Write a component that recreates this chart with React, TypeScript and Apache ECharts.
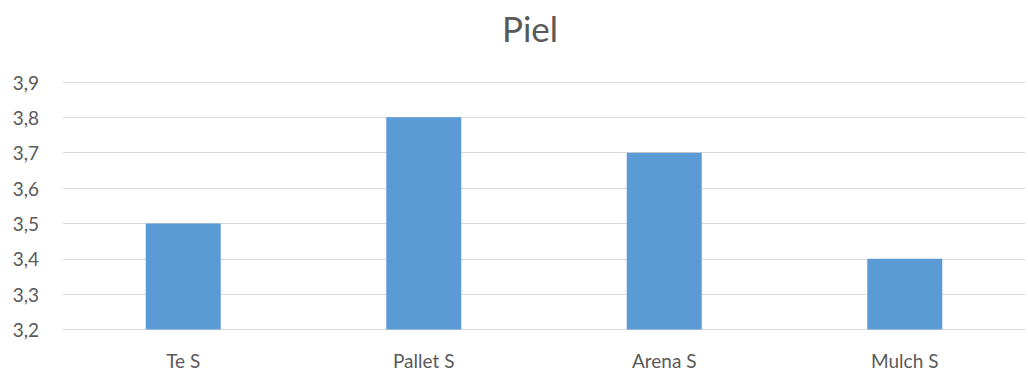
import React, { useEffect, useRef } from "react";
import * as echarts from "echarts";

const title = "Piel";
const categories = ["Te S", "Pallet S", "Arena S", "Mulch S"];
const values = [3.5, 3.8, 3.7, 3.4];
const yMin = 3.2;
const yMax = 3.9;
const yStep = 0.1;

export default function App() {
  const ref = useRef<HTMLDivElement>(null);
  useEffect(() => {
    if (!ref.current) return;
    const chart = echarts.init(ref.current, undefined, { renderer: "svg" });
    const font = "Lato, 'Open Sans', sans-serif";
    chart.setOption({
      animation: false,
      backgroundColor: "#ffffff",
      title: {
        text: title,
        left: 525,
        textAlign: "center",
        top: 5,
        textStyle: { fontFamily: font, fontSize: 35, fontWeight: "normal", color: "#595959" },
      },
      grid: { left: 63, right: 3, top: 82, bottom: 44.5, containLabel: false },
      xAxis: {
        type: "category",
        data: categories,
        axisLine: { show: true, lineStyle: { color: "#D9D9D9", width: 1 } },
        axisTick: { show: false },
        axisLabel: { fontFamily: font, fontSize: 19, color: "#595959", margin: 21 },
      },
      yAxis: {
        type: "value",
        min: yMin,
        max: yMax,
        interval: yStep,
        axisLine: { show: false },
        axisTick: { show: false },
        splitLine: { lineStyle: { color: "#D9D9D9", width: 1 } },
        axisLabel: {
          fontFamily: font,
          fontSize: 19,
          color: "#595959",
          margin: 24,
          formatter: (v: number) => v.toFixed(1).replace(".", ","),
        },
      },
      series: [
        {
          type: "bar",
          data: values,
          barWidth: 75,
          itemStyle: { color: "#5B9BD5" },
        },
      ],
    });
    return () => chart.dispose();
  }, []);
  return (
    <div
      ref={ref}
      style={{ position: "fixed", left: 0, top: 0, width: 1028, height: 374 }}
    />
  );
}
